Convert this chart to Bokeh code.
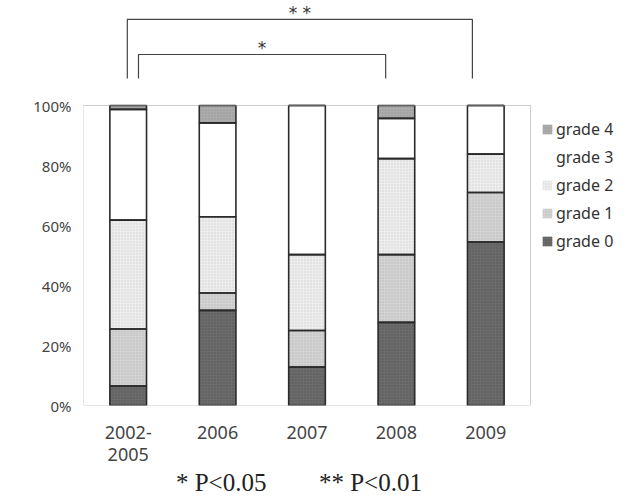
import math
from bokeh.plotting import figure
from bokeh.models import (FixedTicker, Legend, LegendItem, Label, LinearAxis,
                          ColumnDataSource)
from bokeh.core.properties import value
from bokeh.embed import file_html
from bokeh.resources import INLINE

# ---- data ----
categories = ["2002-\n2005", "2006", "2007", "2008", "2009"]
grade0 = [6.5, 31.7, 12.8, 27.7, 54.5]
grade1 = [19.0, 5.8, 12.2, 22.6, 16.5]
grade2 = [36.3, 25.4, 25.3, 32.0, 12.8]
grade3 = [36.9, 31.3, 49.7, 13.4, 16.2]
grade4 = [1.3, 5.8, 0.0, 4.3, 0.0]
series_names = ["grade 0", "grade 1", "grade 2", "grade 3", "grade 4"]
y_ticks = [0, 20, 40, 60, 80, 100]
# significance brackets
bracket_left = [0.49, 0.615]
bracket_right = [4.35, 3.38]
bracket_top = [128.7, 117.0]
bracket_leg = [109.0, 109.0]
bracket_text = ["* *", "*"]
footnote = ["* P<0.05", "** P<0.01"]
footnote_x = [1.54, 3.21]

n = len(categories)
xc = [i + 0.5 for i in range(n)]

p = figure(output_backend="svg", toolbar_location=None,
           frame_width=533, frame_height=405,
           x_range=(0, 5.962), y_range=(0, 135),
           min_border_left=83, min_border_right=0, min_border_top=0,
           min_border_bottom=91)
p.outline_line_color = None
p.background_fill_color = "white"
p.border_fill_color = "white"
p.xgrid.visible = False
p.ygrid.visible = False

src = ColumnDataSource(dict(x=xc, g0=grade0, g1=grade1, g2=grade2,
                            g3=grade3, g4=grade4))
keys = ["g0", "g1", "g2", "g3", "g4"]
fills = ["#6b6b6b", "#d2d2d2", "#ededed", "#ffffff", "#ababab"]
hatch_cols = ["#4a4a4a", "#aaaaaa", "#bdbdbd", "#ffffff", "#8c8c8c"]
hatch_pat = ["dot", "dot", "dot", " ", "dot"]

# stacked fills (legend swatches use these)
fill_rs = p.vbar_stack(keys, x="x", width=0.41, source=src,
                       fill_color=fills, line_color=None,
                       hatch_pattern=hatch_pat, hatch_color=hatch_cols,
                       hatch_scale=3, hatch_weight=1, hatch_alpha=0.6)
# outlines
p.vbar_stack(keys, x="x", width=0.41, source=src,
             fill_color=None, line_color="#2a2a2a", line_width=1.6)

# dotted frame around the 0-100 plot area
p.quad(left=[0], right=[n], bottom=[y_ticks[0]], top=[y_ticks[-1]],
       fill_color=None, line_color="#9a9a9a", line_width=1, line_dash="1 1")

# significance brackets
xs, ys = [], []
for l, r, t, b in zip(bracket_left, bracket_right, bracket_top, bracket_leg):
    xs.append([l, l, r, r])
    ys.append([b, t, t, b])
p.multi_line(xs, ys, line_color="#444444", line_width=1.2)
p.text(x=[(l + r) / 2 for l, r in zip(bracket_left, bracket_right)],
       y=[t + 2.3 for t in bracket_top], text=bracket_text,
       text_align="center", text_baseline="alphabetic",
       text_font=value("DejaVu Sans"), text_font_size="17px",
       text_color="#333333")

# axes
p.yaxis.ticker = FixedTicker(ticks=y_ticks)
p.yaxis.major_label_overrides = {t: f"{t}%" for t in y_ticks}
p.yaxis.axis_line_color = None
p.yaxis.major_tick_line_color = None
p.yaxis.minor_tick_line_color = None
p.yaxis.major_label_text_font = "Noto Sans"
p.yaxis.major_label_text_font_size = "15px"
p.yaxis.major_label_text_color = "#444444"
p.yaxis.major_label_standoff = 6

p.xaxis.ticker = FixedTicker(ticks=xc)
p.xaxis.major_label_overrides = {x: c for x, c in zip(xc, categories)}
p.xaxis.axis_line_color = None
p.xaxis.major_tick_line_color = None
p.xaxis.minor_tick_line_color = None
p.xaxis.major_label_text_font = "Noto Sans"
p.xaxis.major_label_text_font_size = "18px"
p.xaxis.major_label_text_line_height = 0.92
p.xaxis.major_label_text_color = "#444444"
p.xaxis.major_label_standoff = 8

# footnote as a second (label-only) axis below
fax = LinearAxis(ticker=FixedTicker(ticks=footnote_x),
                 major_label_overrides={x: t for x, t in zip(footnote_x, footnote)})
fax.axis_line_color = None
fax.major_tick_line_color = None
fax.minor_tick_line_color = None
fax.major_label_text_font = "Liberation Serif"
fax.major_label_text_font_size = "25px"
fax.major_label_text_color = "#222222"
fax.major_label_standoff = -6
p.add_layout(fax, "below")

p.add_layout(Label(x=-0.82, y=50, text="(%)", angle=math.pi / 2,
                   text_align="center", text_baseline="middle",
                   text_font="Noto Sans", text_font_size="13px",
                   text_color="#555555"))

# legend (top to bottom: grade 4 ... grade 0)
items = [LegendItem(label=series_names[i], renderers=[fill_rs[i]])
         for i in reversed(range(len(series_names)))]
legend = Legend(items=items, location=(458, 153), padding=0, margin=0,
                glyph_width=12, glyph_height=12, label_height=20, spacing=6,
                label_standoff=3, label_text_font="Noto Sans",
                label_text_font_size="16px", label_text_color="#333333",
                border_line_color=None, background_fill_alpha=0)
p.add_layout(legend)

open("out.html", "w").write(file_html(p, INLINE))
